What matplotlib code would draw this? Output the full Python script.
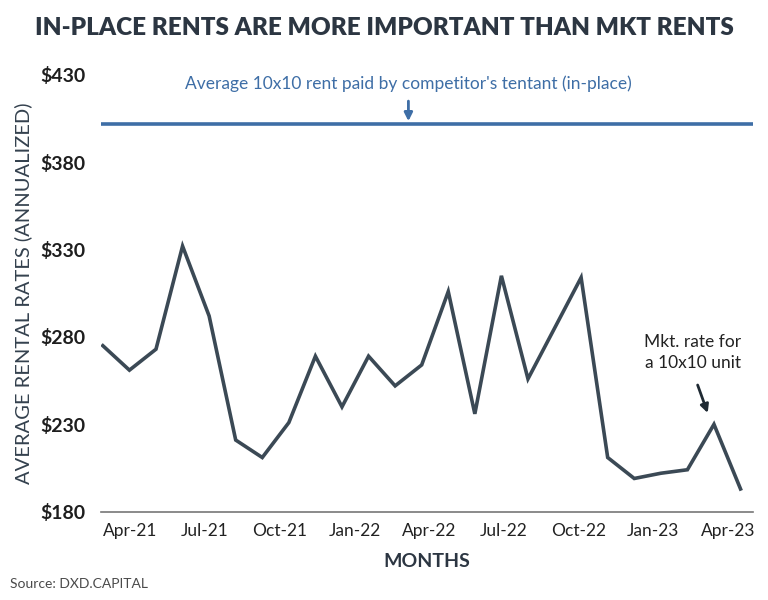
import numpy as np
import matplotlib
matplotlib.use("Agg")
from matplotlib import pyplot as plt

plt.rcParams['font.family'] = ['Lato', 'DejaVu Sans']

# monthly market rate for a 10x10 unit
months = ["Apr-21", "May-21", "Jun-21", "Jul-21", "Aug-21", "Sep-21", "Oct-21",
          "Nov-21", "Dec-21", "Jan-22", "Feb-22", "Mar-22", "Apr-22", "May-22",
          "Jun-22", "Jul-22", "Aug-22", "Sep-22", "Oct-22", "Nov-22", "Dec-22",
          "Jan-23", "Feb-23", "Mar-23", "Apr-23"]
mkt_rate = [275, 261, 273, 332, 292, 221, 211, 231, 269, 240, 269, 252, 264,
            306, 236, 315, 256, 285, 314, 211, 199, 202, 204, 230, 193]
in_place = 402

tick_labels = ["Apr-21", "Jul-21", "Oct-21", "Jan-22", "Apr-22",
               "Jul-22", "Oct-22", "Jan-23", "Apr-23"]
y_ticks = [180, 230, 280, 330, 380, 430]

dark = "#2c3642"
blue = "#3e6ea6"

fig = plt.figure(figsize=(7.68, 6), dpi=100)
ax = fig.add_axes([0.1315, 0.1472, 0.849, 0.728])

x = np.arange(len(months))
ax.plot(x, mkt_rate, color="#3b4955", lw=2.6, solid_joinstyle="miter")
ax.axhline(in_place, color=blue, lw=2.6)

ax.set_xlim(-0.07, 24.47)
ax.set_ylim(180, 430)
ax.set_yticks(y_ticks)
ax.set_yticklabels(["$%d" % v for v in y_ticks], fontsize=14, fontweight="bold", color="#1e1e1e")
ax.set_xticks(np.linspace(1.03, 23.53, len(tick_labels)))
ax.set_xticklabels(tick_labels, fontsize=12.5, color="#222222")
ax.tick_params(length=0)
ax.tick_params(axis="y", pad=11)
ax.tick_params(axis="x", pad=8)

for s in ["top", "right", "left"]:
    ax.spines[s].set_visible(False)
ax.spines["bottom"].set_color("#777777")
ax.spines["bottom"].set_linewidth(1.2)

ax.set_ylabel("AVERAGE RENTAL RATES (ANNUALIZED)", fontsize=14.5, color="#34414e", labelpad=6)
ax.set_xlabel("MONTHS", fontsize=14, fontweight="bold", color=dark, labelpad=10)

fig.text(0.5, 0.953, "IN-PLACE RENTS ARE MORE IMPORTANT THAN MKT RENTS",
         ha="center", va="center", fontsize=17.5, fontweight="heavy", color=dark)
fig.text(0.013, 0.02, "Source: DXD.CAPITAL", fontsize=10, color="#4a4a4a")

# annotations
ax.annotate("", xy=(11.5, 403.5), xytext=(11.5, 415),
            arrowprops=dict(arrowstyle="-|>", color=blue, lw=2, mutation_scale=12,
                            shrinkA=0, shrinkB=0))
ax.text(11.5, in_place + 23, "Average 10x10 rent paid by competitor's tentant (in-place)",
        ha="center", va="center", fontsize=12.5, color=blue)

ax.annotate("", xy=(22.8, mkt_rate[23] + 5), xytext=(22.35, mkt_rate[23] + 24),
            arrowprops=dict(arrowstyle="-|>", color="#1f2a33", lw=2, mutation_scale=12))
ax.text(22.2, mkt_rate[23] + 41, "Mkt. rate for\na 10x10 unit", ha="center", va="center",
        fontsize=12.5, color="#222222", linespacing=1.35)

fig.savefig("out.png", dpi=100)
